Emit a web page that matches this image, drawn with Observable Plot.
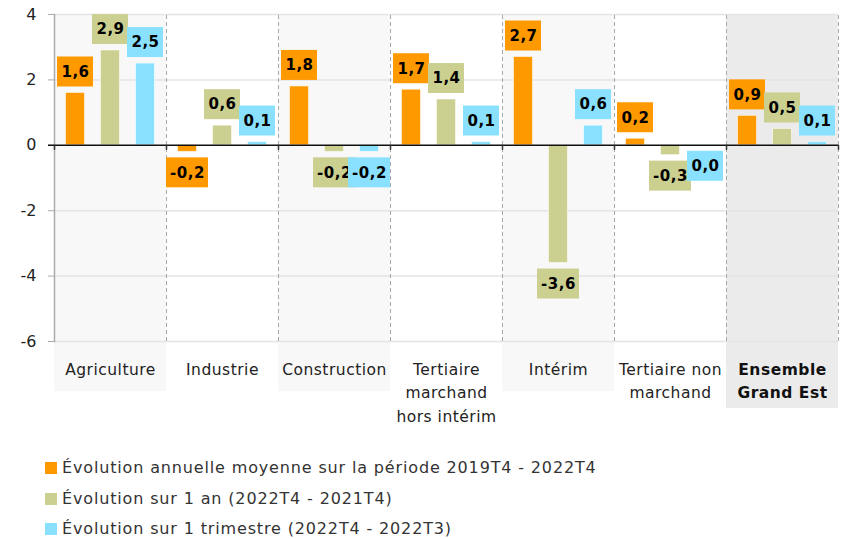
<!DOCTYPE html>
<html><head><meta charset="utf-8">
<script src="https://cdn.jsdelivr.net/npm/d3@7"></script>
<script src="https://cdn.jsdelivr.net/npm/@observablehq/plot@0.6"></script>
<style>
body{margin:0;background:#fff;font-family:"DejaVu Sans",sans-serif;}
#legend{padding-left:45px;padding-top:13px;}
.row{display:flex;align-items:center;height:30.5px;font-size:16px;color:#333;line-height:18px;letter-spacing:0.85px;}
.sw{width:12px;height:12px;margin-right:5px;flex:none;}
svg g[aria-label="text"] text{letter-spacing:0.5px;}
</style></head><body>
<div id="chart"></div>
<div id="legend"></div>
<script>
const categories = ["Agriculture","Industrie","Construction","Tertiaire marchand hors intérim","Intérim","Tertiaire non marchand","Ensemble Grand Est"];
const categoryLines = [["Agriculture"],["Industrie"],["Construction"],["Tertiaire","marchand","hors intérim"],["Intérim"],["Tertiaire non","marchand"],["Ensemble","Grand Est"]];
const seriesNames = ["Évolution annuelle moyenne sur la période 2019T4 - 2022T4","Évolution sur 1 an (2022T4 - 2021T4)","Évolution sur 1 trimestre (2022T4 - 2022T3)"];
const annualAvg = [1.6,-0.2,1.8,1.7,2.7,0.2,0.9];
const oneYear = [2.9,0.6,-0.2,1.4,-3.6,-0.3,0.5];
const oneQuarter = [2.5,0.1,-0.2,0.1,0.6,0.0,0.1];
const yTicks = [-6,-4,-2,0,2,4];
const colors = ["#FF9900","#CBCF8F","#8AE1FF"];

const seriesValues = [annualAvg, oneYear, oneQuarter];
const data = [];
seriesValues.forEach((vals, s) => vals.forEach((v, i) => data.push({cat: categories[i], s, v, label: v.toFixed(1).replace(".", ",")})));

const fmt = d => String(d);
// bar placement inside each 112px band (style)
const barInsets = [[11.5,81.5],[46.5,46.5],[81.5,11.5]];
const barDx = [-35,0,35];

const marks = [];
// backgrounds
marks.push(Plot.barY(categories.filter((c,i)=>i%2===0 && i<6), {x: d=>d, y1: ()=>-6, y2: ()=>4, fill: "#F8F8F8", insetBottom: -50}));
marks.push(Plot.barY(categories.filter((c,i)=>i===6), {x: d=>d, y1: ()=>-6, y2: ()=>4, fill: "#EBEBEB", insetBottom: -67}));
// grid
marks.push(Plot.ruleY(yTicks.filter(d=>d!==0), {stroke: "#e4e4e4", strokeWidth: 1.5}));
// dashed separators
marks.push(Plot.ruleX(categories, {x: d=>d, dx: 56, y1: ()=>-6, y2: ()=>4, stroke: "#a8a8a8", strokeDasharray: "4,3", strokeWidth: 1}));
// axis
marks.push(Plot.axisY(yTicks, {tickSize: 6, tickPadding: 12, stroke: "#aaa", fill: "#222", fontSize: 16, tickFormat: fmt, label: null}));
marks.push(Plot.frame({anchor: "left", stroke: "#aaa", strokeWidth: 1.5}));
// bars
[0,1,2].forEach(s => {
  marks.push(Plot.barY(data.filter(d=>d.s===s), {x: "cat", y: "v", fill: colors[s], stroke: "#fff", strokeOpacity: 0.55, strokeWidth: 1, insetLeft: barInsets[s][0], insetRight: barInsets[s][1]}));
});
// zero line and ticks
marks.push(Plot.ruleY([0], {stroke: "#111", strokeWidth: 1.5, insetLeft: -6}));
marks.push(Plot.ruleX(categories, {x: d=>d, dx: 56, y1: ()=>0, y2: ()=>0, insetBottom: -5, stroke: "#333", strokeWidth: 1.5}));
marks.push(Plot.ruleX([categories[0]], {x: d=>d, dx: -56, y1: ()=>0, y2: ()=>0, insetBottom: -5, stroke: "#333", strokeWidth: 1.5}));
// label boxes and labels
[0,1,2].forEach(s => {
  [true,false].forEach(up => {
    [3,4].forEach(len => {
      const sub = data.filter(d => d.s===s && (d.v>0)===up && d.label.length===len);
      if (!sub.length) return;
      const w = len===3 ? 36 : 42;
      const ext = (w-19)/2;
      marks.push(Plot.barY(sub, {x: "cat", y1: "v", y2: "v", fill: colors[s],
        insetLeft: barInsets[s][0]-ext, insetRight: barInsets[s][1]-ext,
        insetTop: up ? -36 : 6, insetBottom: up ? 6 : -36}));
    });
    const sub = data.filter(d => d.s===s && (d.v>0)===up);
    marks.push(Plot.text(sub, {x: "cat", y: "v", text: "label", dx: barDx[s], dy: up ? -21 : 21, fontWeight: "bold", fontSize: 15, fill: "#000"}));
  });
});
// category labels
marks.push(Plot.text(categories.slice(0,6), {x: d=>d, y: ()=>-6, text: (d,i)=>categoryLines[i].join("\n"), lineAnchor: "top", dy: 17, lineHeight: 1.5, fontSize: 15.5, fill: "#222"}));
marks.push(Plot.text([categories[6]], {x: d=>d, y: ()=>-6, text: ()=>categoryLines[6].join("\n"), lineAnchor: "top", dy: 17, lineHeight: 1.5, fontSize: 15.5, fontWeight: "bold", fill: "#111"}));

const chart = Plot.plot({
  width: 843, height: 440,
  marginTop: 14, marginLeft: 54, marginRight: 5, marginBottom: 99,
  style: {fontFamily: "'DejaVu Sans', sans-serif", background: "transparent", overflow: "visible"},
  x: {domain: categories, padding: 0, axis: null},
  y: {domain: [-6, 4], axis: null},
  marks
});
document.getElementById("chart").appendChild(chart);

const lg = document.getElementById("legend");
seriesNames.forEach((n, i) => {
  const r = document.createElement("div"); r.className = "row";
  const sw = document.createElement("span"); sw.className = "sw"; sw.style.background = colors[i];
  const t = document.createElement("span"); t.textContent = n;
  r.appendChild(sw); r.appendChild(t); lg.appendChild(r);
});
</script></body></html>
